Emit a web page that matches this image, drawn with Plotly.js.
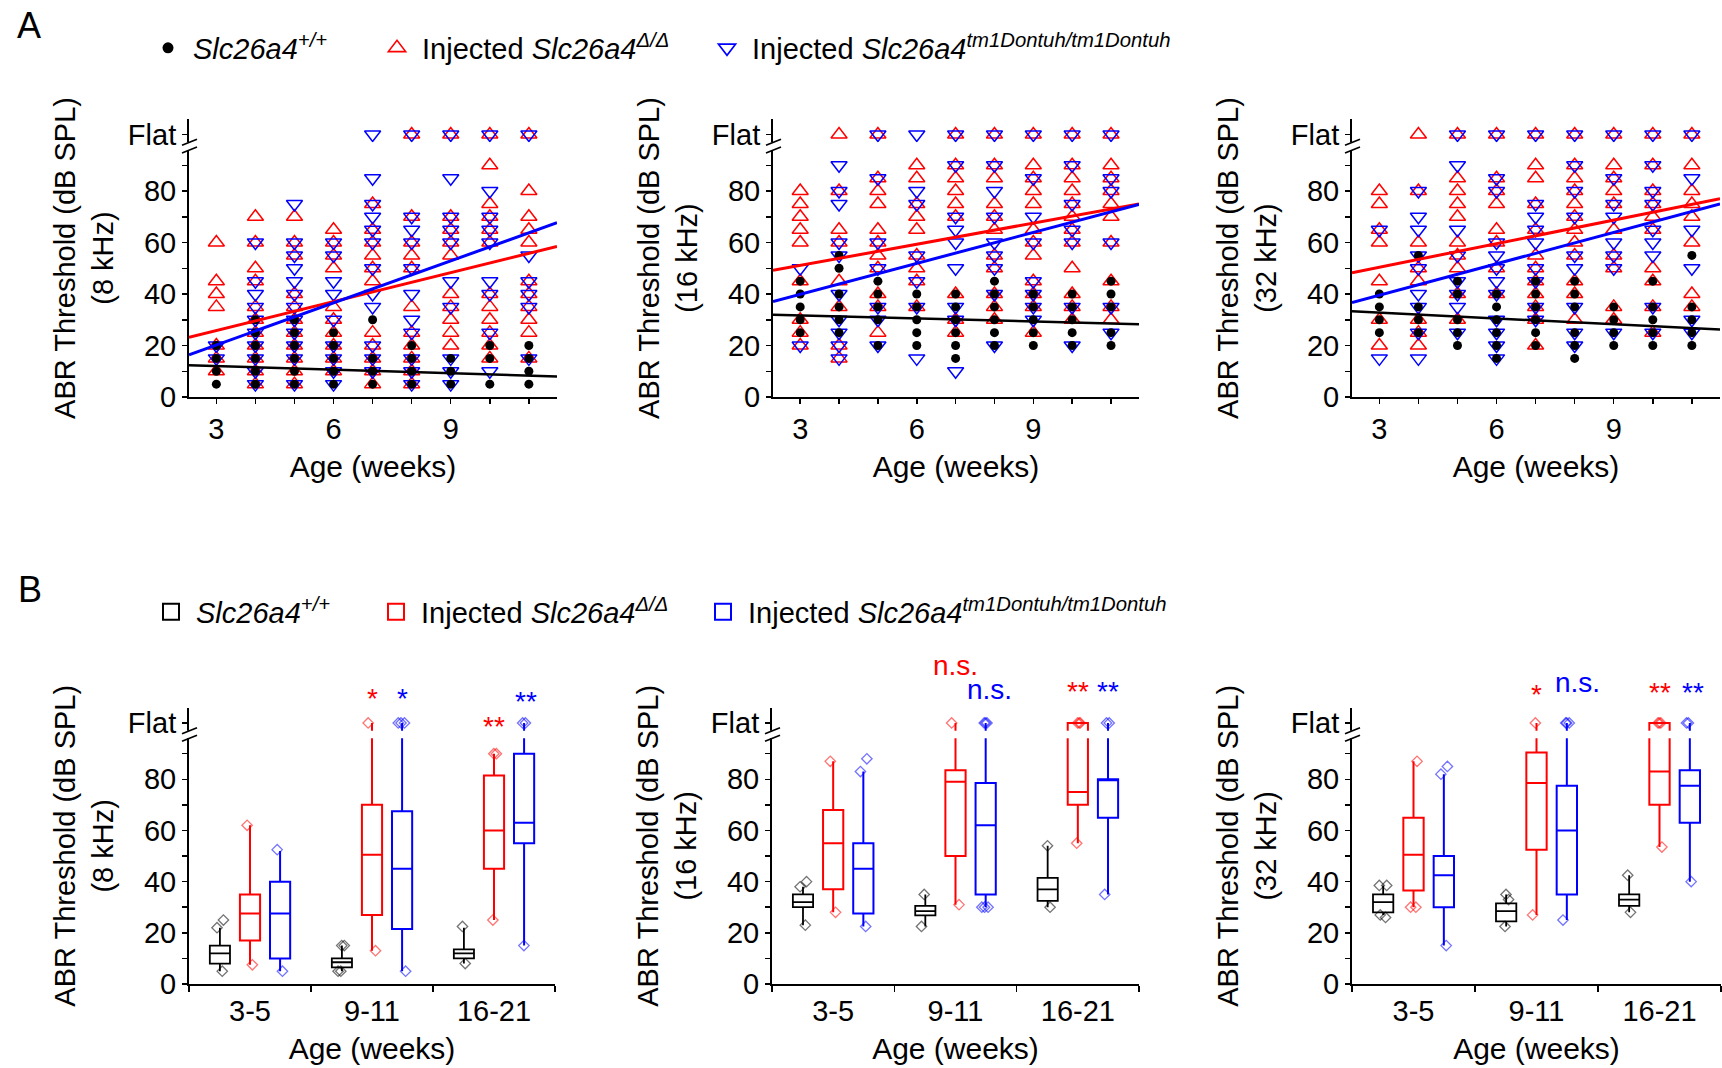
<!DOCTYPE html>
<html><head><meta charset="utf-8">
<script src="https://cdn.plot.ly/plotly-3.0.1.min.js"></script>
<style>html,body{margin:0;padding:0;background:#fff}#chart{width:1722px;height:1068px}</style>
</head><body><div id="chart"></div>
<script>
const F = 'Flat';
const weeks = [3, 4, 5, 6, 7, 8, 9, 10, 11];

// ---------- Panel A: thresholds per week (one list per week 3..11) ----------
// 8 kHz
const wt8 = [[20,15,10,5],[30,25,20,15,10,5],[30,25,20,15,10,5],[25,20,15,10,5],[30,15,10,5],[20,15,10,5],[15,10,5],[20,15,5],[20,15,10,5]];
const del8 = [[60,45,40,35,20,15,10],[70,60,50,45,35,30,25,20,15,10,5],[70,60,55,40,35,30,25,20,15,10,5],[65,60,55,50,35,30,25,20,15,10],[75,65,60,55,50,45,25,20,15,10,5],[F,70,60,55,50,35,25,20,15,10,5],[F,70,65,60,55,40,35,30,25,20],[F,90,75,70,65,60,40,35,30,25,20,15],[F,80,70,65,60,45,40,35,30,25,15]];
const tm8 = [[20,15],[60,45,40,35,30,25,20,15,10,5],[75,60,55,50,45,40,35,30,25,20,15,5],[60,55,45,40,30,20,15,10,5],[F,85,75,70,65,60,50,40,35,20,15,10],[F,70,65,60,50,40,30,25,15,10,5],[F,85,70,65,60,45,35,15,10,5],[F,80,70,65,60,45,40,25,10],[F,55,45,40,35,15]];
// 16 kHz
const wt16 = [[45,40,35,30,25],[55,50,40,35,30,25],[45,40,35,30,20],[40,35,30,25,20],[40,35,30,25,20,15],[45,40,35,30,25,20],[40,35,30,25,20],[40,35,30,25,20],[45,40,35,25,20]];
const del16 = [[80,75,70,65,60,45,30,25,20],[F,80,65,60,45,35,20,15],[F,85,80,75,65,60,55,50,40,35,25],[90,85,75,70,65,55,50,45,35],[F,90,85,80,75,70,40,30,25],[F,90,85,75,70,65,55,50,40,35,30],[F,90,85,80,75,65,60,55,45,40,35,25],[F,90,85,80,75,70,65,60,50,40,35,30],[F,90,85,80,75,70,60,45,35,30]];
const tm16 = [[50,20],[90,80,75,60,55,40,30,25,20,15],[F,85,60,50,35,30,20],[F,80,75,55,45,35,15],[F,90,70,65,60,50,35,30,10],[F,90,80,70,60,55,50,40,20],[F,85,70,60,45,40,35,30],[F,90,75,65,60,35,20],[F,85,80,60,35,25]];
// 32 kHz
const wt32 = [[40,35,30,25],[55,35,30,25],[45,40,30,25,20],[40,35,30,25,20,15],[45,40,35,30,25,20],[45,40,35,25,20,15],[35,30,25,20],[45,35,30,25,20],[55,35,30,25,20]];
const del32 = [[80,75,65,60,45,30,20],[F,80,60,50,45,30,25,20],[F,85,80,75,70,60,55,50,40,30],[F,85,80,75,65,60,50,40],[F,90,85,75,65,55,50,45,40,35,30,20],[F,90,85,80,75,70,65,60,55,45,40,30],[F,90,85,80,75,65,55,50,35,30],[F,90,80,75,70,65,50,45,35,25],[F,90,80,75,70,60,40,35]];
const tm32 = [[65,15],[80,70,65,55,50,40,35,25,15],[F,90,65,55,45,40,35,25],[F,85,80,60,55,50,45,40,30,25,20,15],[F,75,70,65,60,50,45,35,30],[F,90,80,70,55,50,35,25,20],[F,85,75,70,60,55,50,25],[F,90,80,75,65,60,55,35,25],[F,85,65,50,30,25]];

// regression lines (end points read at the axis ends)
const fitX = [2.3, 11.72];
const fit8Wt = [12.3, 8.0], fit8Del = [23.2, 58.5], fit8Tm = [16.4, 67.7];
const fit16Wt = [32.0, 28.3], fit16Del = [49.2, 75.0], fit16Tm = [37.1, 74.8];
const fit32Wt = [33.3, 26.2], fit32Del = [48.3, 77.0], fit32Tm = [36.7, 75.0];

// ---------- Panel B: box statistics per age group ----------
const cats = ['3-5', '9-11', '16-21'];
// 8 kHz
const b8WtQ1 = [8, 6.5, 10], b8WtMed = [12, 8.5, 12], b8WtQ3 = [15, 10, 13.5], b8WtLo = [5, 5, 8], b8WtHi = [22, 15, 22];
const b8WtPts = [[25, 22, 5], [15, 15, 5, 5], [22.5, 8]];
const b8DelQ1 = [17, 27, 45], b8DelMed = [27.5, 50.5, 60], b8DelQ3 = [35, 70, 81.5], b8DelLo = [7.5, 13, 25], b8DelHi = [62, F, 90];
const b8DelPts = [[62, 7.5], [F, 13], [90, 90, 25]];
const b8TmQ1 = [10, 21.5, 55], b8TmMed = [27.5, 45, 63], b8TmQ3 = [40, 67.5, 90], b8TmLo = [5, 5, 15], b8TmHi = [52, F, F];
const b8TmPts = [[52.5, 5], [F, F, F, 5], [F, F, 15]];
// 16 kHz
const b16WtQ1 = [30, 26.8, 32.5], b16WtMed = [32, 28.5, 37], b16WtQ3 = [35, 30.5, 41.5], b16WtLo = [23, 22.5, 30], b16WtHi = [38, 35, 54];
const b16WtPts = [[40, 38, 23], [35, 22.5], [54, 30]];
const b16DelQ1 = [37, 50, 70], b16DelMed = [55, 79, 75], b16DelQ3 = [68, 83.5, F], b16DelLo = [28, 31, 55], b16DelHi = [87, F, F];
const b16DelPts = [[87, 28], [F, 31], [F, F, F, 55]];
const b16TmQ1 = [27.5, 35, 65], b16TmMed = [45, 62, 80], b16TmQ3 = [55, 78.5, 80], b16TmLo = [22.5, 30, 35], b16TmHi = [83, F, F];
const b16TmPts = [[88, 83, 22.5], [F, F, F, 30, 30, 30], [F, F, 35]];
// 32 kHz
const b32WtQ1 = [28, 24.5, 30.5], b32WtMed = [32, 28.5, 33], b32WtQ3 = [35, 31.5, 35], b32WtLo = [27, 22.5, 28], b32WtHi = [38.5, 35, 42.5];
const b32WtPts = [[38.5, 38.5, 27, 26], [35, 33, 22.5], [42.5, 28]];
const b32DelQ1 = [36.5, 52.5, 70], b32DelMed = [50.5, 78.5, 83], b32DelQ3 = [65, 90.5, F], b32DelLo = [30, 27, 53.5], b32DelHi = [87, F, F];
const b32DelPts = [[87, 30, 30], [F, 27], [F, F, F, 53.5]];
const b32TmQ1 = [30, 35, 63], b32TmMed = [42.5, 60, 77.5], b32TmQ3 = [50, 77.5, 83.5], b32TmLo = [15, 25, 40], b32TmHi = [82, F, F];
const b32TmPts = [[85, 82, 15], [F, F, F, 25], [F, F, 40]];

// significance labels: [text, colour group, x (category index), glyph centre y px]
const sig8 = [['*', 'del', 1, 698], ['*', 'tm', 1.25, 698], ['**', 'del', 2, 726], ['**', 'tm', 2.26, 701]];
const sig16 = [['n.s.', 'del', 1, 665], ['n.s.', 'tm', 1.28, 689], ['**', 'del', 2, 691], ['**', 'tm', 2.25, 691]];
const sig32 = [['*', 'del', 1, 694], ['n.s.', 'tm', 1.33, 682], ['**', 'del', 2, 692], ['**', 'tm', 2.27, 692]];

// ---------- drawing ----------
const W = 1722, H = 1068, FLAT = 102, YR = [0, 108], BAND = [96, 99];
const RED = '#ff0000', BLUE = '#0000ff', BLACK = '#000000';
const COL = {wt: BLACK, del: RED, tm: BLUE};
const FONT = '"Liberation Sans", Arial, Helvetica, sans-serif';
const px = p => p / W;
const py = p => 1 - p / H;
const val = v => (v === F ? FLAT : v);

const A_Y = [397, 119], B_Y = [984, 707.6];
const A_X = [[189, 557], [773, 1139], [1352, 1720]];
const B_X = [[189, 555], [772, 1139], [1352, 1721]];

const names = {
  wt: '<i>Slc26a4<sup>+/+</sup></i>',
  del: 'Injected <i>Slc26a4<sup>Δ/Δ</sup></i>',
  tm: 'Injected <i>Slc26a4<sup>tm1Dontuh/tm1Dontuh</sup></i>'
};

const panelsA = [
  {n: 1, kHz: '8', wt: wt8, del: del8, tm: tm8, fit: {wt: fit8Wt, del: fit8Del, tm: fit8Tm}},
  {n: 2, kHz: '16', wt: wt16, del: del16, tm: tm16, fit: {wt: fit16Wt, del: fit16Del, tm: fit16Tm}},
  {n: 3, kHz: '32', wt: wt32, del: del32, tm: tm32, fit: {wt: fit32Wt, del: fit32Del, tm: fit32Tm}}
];
const panelsB = [
  {n: 4, kHz: '8', sig: sig8, g: {
    wt: [b8WtQ1, b8WtMed, b8WtQ3, b8WtLo, b8WtHi, b8WtPts],
    del: [b8DelQ1, b8DelMed, b8DelQ3, b8DelLo, b8DelHi, b8DelPts],
    tm: [b8TmQ1, b8TmMed, b8TmQ3, b8TmLo, b8TmHi, b8TmPts]}},
  {n: 5, kHz: '16', sig: sig16, g: {
    wt: [b16WtQ1, b16WtMed, b16WtQ3, b16WtLo, b16WtHi, b16WtPts],
    del: [b16DelQ1, b16DelMed, b16DelQ3, b16DelLo, b16DelHi, b16DelPts],
    tm: [b16TmQ1, b16TmMed, b16TmQ3, b16TmLo, b16TmHi, b16TmPts]}},
  {n: 6, kHz: '32', sig: sig32, g: {
    wt: [b32WtQ1, b32WtMed, b32WtQ3, b32WtLo, b32WtHi, b32WtPts],
    del: [b32DelQ1, b32DelMed, b32DelQ3, b32DelLo, b32DelHi, b32DelPts],
    tm: [b32TmQ1, b32TmMed, b32TmQ3, b32TmLo, b32TmHi, b32TmPts]}}
];

function flatten(lists) {
  const xs = [], ys = [];
  lists.forEach((l, i) => l.forEach(v => { xs.push(weeks[i]); ys.push(val(v)); }));
  return {xs, ys};
}

const traces = [];
const layout = {
  width: W, height: H, margin: {l: 0, r: 0, t: 0, b: 0},
  paper_bgcolor: '#fff', plot_bgcolor: '#fff',
  font: {family: FONT, color: '#000', size: 29},
  boxmode: 'group', boxgap: 0.26, boxgroupgap: 0.33,
  showlegend: true, hovermode: false,
  shapes: [], annotations: []
};

function yAxisDef(yPx, anchor, kHz) {
  return {
    domain: [py(yPx[0]), py(yPx[1])], anchor: anchor, range: YR,
    tickmode: 'array', tickvals: [0, 20, 40, 60, 80, FLAT], ticktext: ['0', '20', '40', '60', '80', 'Flat'],
    ticks: 'outside', ticklen: 5, tickwidth: 1.5, tickcolor: '#000',
    minor: {tickmode: 'array', tickvals: [10, 30, 50, 70, 90], ticks: 'outside', ticklen: 5, tickwidth: 1.5, tickcolor: '#000'},
    showline: true, linewidth: 2, linecolor: '#000', showgrid: false, zeroline: false,
    tickfont: {size: 29}, fixedrange: true,
    title: {text: 'ABR Threshold (dB SPL)<br>(' + kHz + ' kHz)', font: {size: 29}, standoff: 6}
  };
}

function breakShapes(xPx, yPx) {
  const vy = v => yPx[0] - (v - YR[0]) / (YR[1] - YR[0]) * (yPx[0] - yPx[1]);
  layout.shapes.push({type: 'rect', xref: 'paper', yref: 'paper', layer: 'above',
    x0: px(xPx[0] - 9), x1: px(xPx[1] + 2), y0: py(vy(BAND[0])), y1: py(vy(BAND[1])),
    fillcolor: '#fff', line: {width: 0}});
  BAND.forEach(b => {
    const yy = vy(b);
    layout.shapes.push({type: 'line', xref: 'paper', yref: 'paper', layer: 'above',
      x0: px(xPx[0] - 7), y0: py(yy + 3), x1: px(xPx[0] + 8), y1: py(yy - 3),
      line: {color: '#000', width: 1.6}});
  });
}

// Panel A
panelsA.forEach((p, i) => {
  const xa = 'x' + (p.n === 1 ? '' : p.n), ya = 'y' + (p.n === 1 ? '' : p.n);
  const spec = [
    ['del', 'triangle-up-open', 14],
    ['tm', 'triangle-down-open', 14],
    ['wt', 'circle', 9]
  ];
  spec.forEach(([k, sym, size]) => {
    const d = flatten(p[k]);
    traces.push({type: 'scatter', mode: 'markers', xaxis: xa, yaxis: ya, x: d.xs, y: d.ys,
      name: names[k], showlegend: false,
      marker: {symbol: sym, size: size, color: COL[k], line: {color: COL[k], width: k === 'wt' ? 0 : 1.5}}});
  });
  ['del', 'tm', 'wt'].forEach(k => {
    traces.push({type: 'scatter', mode: 'lines', xaxis: xa, yaxis: ya, x: fitX, y: p.fit[k],
      showlegend: false, line: {color: COL[k], width: k === 'wt' ? 2.5 : 3}});
  });
  const xPx = A_X[i];
  layout['xaxis' + (p.n === 1 ? '' : p.n)] = {
    domain: [px(xPx[0]), px(xPx[1])], anchor: ya, range: [2.3, 11.72],
    tickmode: 'array', tickvals: [3, 6, 9], ticks: 'outside', ticklen: 5, tickwidth: 1.5, tickcolor: '#000',
    minor: {tickmode: 'array', tickvals: [4, 5, 7, 8, 10, 11], ticks: 'outside', ticklen: 5, tickwidth: 1.5, tickcolor: '#000'},
    showline: true, linewidth: 2, linecolor: '#000', showgrid: false, zeroline: false,
    tickfont: {size: 29}, fixedrange: true,
    title: {text: 'Age (weeks)', font: {size: 30}, standoff: 12}
  };
  layout['yaxis' + (p.n === 1 ? '' : p.n)] = yAxisDef(A_Y, xa, p.kHz);
  breakShapes(xPx, A_Y);
});

// Panel B
panelsB.forEach((p, i) => {
  const xa = 'x' + p.n, ya = 'y' + p.n;
  ['wt', 'del', 'tm'].forEach(k => {
    const [q1, med, q3, lo, hi, pts] = p.g[k];
    traces.push({type: 'box', xaxis: xa, yaxis: ya, x: cats,
      alignmentgroup: 'B' + p.n, offsetgroup: k,
      q1: q1.map(val), median: med.map(val), q3: q3.map(val), lowerfence: lo.map(val), upperfence: hi.map(val),
      y: pts.map(a => a.map(val)), boxpoints: 'all', jitter: 0.45, pointpos: 0, whiskerwidth: 0,
      fillcolor: 'rgba(0,0,0,0)', line: {color: COL[k], width: k === 'wt' ? 1.8 : 2},
      marker: {symbol: 'diamond-open', size: 8, color: COL[k], opacity: 0.55, line: {width: 1.3}},
      showlegend: false, name: names[k]});
  });
  const xPx = B_X[i];
  layout['xaxis' + p.n] = {
    domain: [px(xPx[0]), px(xPx[1])], anchor: ya, type: 'category',
    categoryorder: 'array', categoryarray: cats, range: [-0.5, 2.5], tickson: 'boundaries',
    ticks: 'outside', ticklen: 6, tickwidth: 1.5, tickcolor: '#000',
    showline: true, linewidth: 2, linecolor: '#000', showgrid: false, zeroline: false,
    tickfont: {size: 29}, fixedrange: true,
    title: {text: 'Age (weeks)', font: {size: 30}, standoff: 12}
  };
  layout['yaxis' + p.n] = yAxisDef(B_Y, xa, p.kHz);
  breakShapes(xPx, B_Y);
  p.sig.forEach(([t, k, xc, yc]) => {
    layout.annotations.push({xref: xa, yref: 'paper', x: xc, y: py(yc), text: t, showarrow: false,
      xanchor: 'center', yanchor: 'middle', font: {size: 28, color: COL[k]}});
  });
});

// legend-only entries (panel A symbols and panel B open squares)
[['wt', 'legend', 'circle', 11, 0], ['del', 'legend2', 'triangle-up-open', 15, 1.6], ['tm', 'legend3', 'triangle-down-open', 15, 1.6],
 ['wt', 'legend4', 'square-open', 18, 2], ['del', 'legend5', 'square-open', 18, 2], ['tm', 'legend6', 'square-open', 18, 2]
].forEach(([k, lg, sym, size, lw]) => {
  traces.push({type: 'scatter', mode: 'markers', x: [null], y: [null], xaxis: 'x', yaxis: 'y',
    name: names[k], legend: lg, showlegend: true,
    marker: {symbol: sym, size: size, color: COL[k], line: {color: COL[k], width: lw}}});
});

const legBase = {orientation: 'h', xanchor: 'left', yanchor: 'middle', bgcolor: 'rgba(0,0,0,0)',
  borderwidth: 0, itemwidth: 40, font: {size: 29}, itemclick: false, itemdoubleclick: false};
layout.legend = Object.assign({}, legBase, {x: px(168 - 25), y: py(48)});
layout.legend2 = Object.assign({}, legBase, {x: px(397 - 25), y: py(48)});
layout.legend3 = Object.assign({}, legBase, {x: px(727 - 25), y: py(48)});
layout.legend4 = Object.assign({}, legBase, {x: px(171 - 25), y: py(612)});
layout.legend5 = Object.assign({}, legBase, {x: px(396 - 25), y: py(612)});
layout.legend6 = Object.assign({}, legBase, {x: px(723 - 25), y: py(612)});

// panel letters
layout.annotations.push({xref: 'paper', yref: 'paper', x: px(29), y: py(25), text: 'A', showarrow: false,
  xanchor: 'center', yanchor: 'middle', font: {size: 36}});
layout.annotations.push({xref: 'paper', yref: 'paper', x: px(30), y: py(589), text: 'B', showarrow: false,
  xanchor: 'center', yanchor: 'middle', font: {size: 36}});

Plotly.newPlot('chart', traces, layout, {staticPlot: true, displayModeBar: false});
</script>
</body></html>
